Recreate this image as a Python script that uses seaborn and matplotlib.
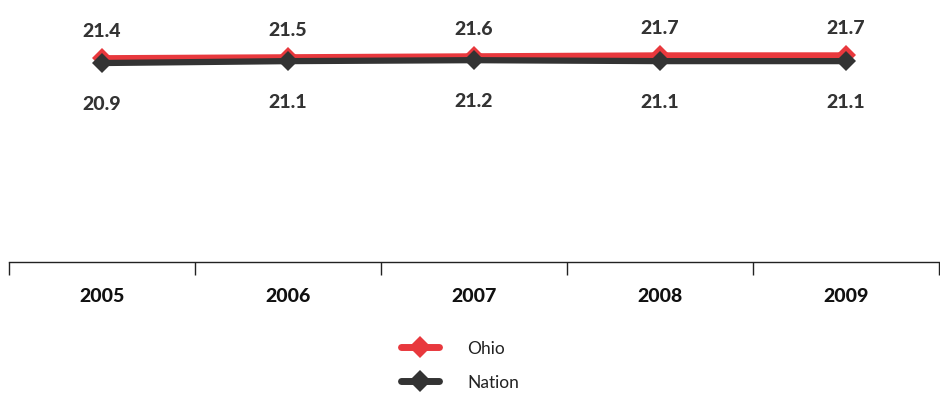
import pandas as pd
import matplotlib.pyplot as plt
import seaborn as sns

years = ["2005", "2006", "2007", "2008", "2009"]
ohio = [21.4, 21.5, 21.6, 21.7, 21.7]
nation = [20.9, 21.1, 21.2, 21.1, 21.1]
series_names = ["Ohio", "Nation"]
colors = {"Ohio": "#e8383d", "Nation": "#333333"}

df = pd.DataFrame({
    "Year": list(range(len(years))) * 2,
    "Score": ohio + nation,
    "Series": ["Ohio"] * len(ohio) + ["Nation"] * len(nation),
})

sns.set_style("white")
plt.rcParams["font.family"] = ["Lato", "DejaVu Sans"]

fig = plt.figure(figsize=(9.4, 4.02), dpi=100)
ax = fig.add_axes([9 / 940, 139 / 402, 930 / 940, 238 / 402])

sns.lineplot(data=df, x="Year", y="Score", hue="Series", hue_order=series_names,
             palette=colors, style="Series", markers={"Ohio": "D", "Nation": "D"},
             dashes=False, markersize=10, linewidth=4.5, markeredgewidth=0, ax=ax,
             legend=False)

# value labels above (Ohio) and below (Nation)
for i, v in enumerate(ohio):
    ax.annotate(f"{v:.1f}", (i, v), xytext=(0, 20), textcoords="offset points",
                ha="center", va="center", fontsize=14, fontweight="black", color="#333333")
for i, v in enumerate(nation):
    ax.annotate(f"{v:.1f}", (i, v), xytext=(0, -29), textcoords="offset points",
                ha="center", va="center", fontsize=14, fontweight="black", color="#333333")

ax.set_xlim(-0.5, len(years) - 0.5)
ax.set_ylim(0, 25)
ax.set_yticks([])
ax.set_xticks(range(len(years)))
ax.set_xticklabels(years, fontsize=14, fontweight="black", color="#111111")
ax.set_xticks([i - 0.5 for i in range(len(years) + 1)], minor=True)
ax.tick_params(axis="x", which="major", length=0, pad=18)
ax.tick_params(axis="x", which="minor", bottom=True, length=9, width=1, direction="out",
               color="#222222")
for s in ["left", "right", "top"]:
    ax.spines[s].set_visible(False)
ax.spines["bottom"].set_color("#222222")
ax.spines["bottom"].set_linewidth(1)
ax.set_xlabel("")
ax.set_ylabel("")

handles = [plt.Line2D([], [], color=colors[n], marker="D", markersize=11, linewidth=5,
                      markeredgewidth=0, solid_capstyle="round") for n in series_names]
fig.legend(handles, series_names, loc="center", bbox_to_anchor=(460 / 940, 1 - 366 / 402),
           frameon=False, fontsize=12.5, handlelength=2.2, labelspacing=1.0, handletextpad=1.6,
           labelcolor="#222222")

fig.savefig("out.png", dpi=100)
